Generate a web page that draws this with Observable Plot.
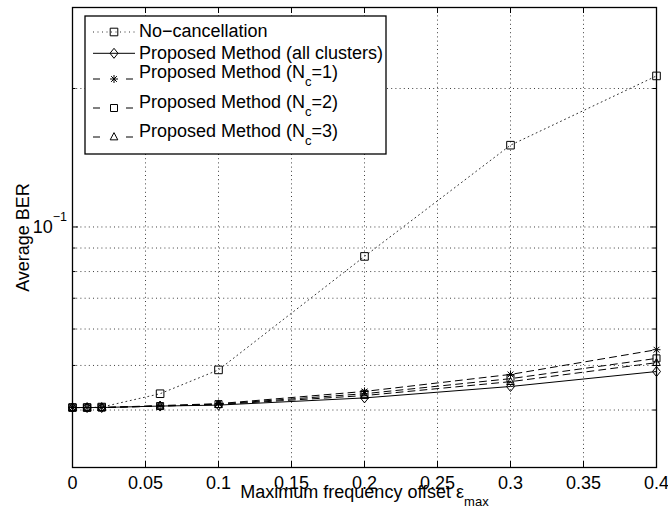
<!DOCTYPE html>
<html>
<head>
<meta charset="utf-8">
<script src="https://cdn.jsdelivr.net/npm/d3@7"></script>
<script src="https://cdn.jsdelivr.net/npm/@observablehq/plot@0.6"></script>
<style>
  html, body { margin: 0; padding: 0; background: #fff; }
</style>
</head>
<body>
<div id="chart"></div>
<script>
// ---- data ----
const offsets      = [0, 0.01, 0.02, 0.06, 0.1, 0.2, 0.3, 0.4];
const berNoCancel  = [0.0405, 0.0405, 0.0406, 0.0434, 0.0489, 0.0863, 0.1506, 0.213];
const berAll       = [0.0405, 0.0405, 0.0405, 0.0408, 0.0410, 0.0425, 0.0450, 0.0485];
const berNc1       = [0.0405, 0.0405, 0.0405, 0.0409, 0.0413, 0.0439, 0.0478, 0.0541];
const berNc2       = [0.0405, 0.0405, 0.0405, 0.0408, 0.0412, 0.0434, 0.0468, 0.0518];
const berNc3       = [0.0405, 0.0405, 0.0405, 0.0408, 0.0411, 0.0430, 0.0461, 0.0507];
const seriesNames  = ["No−cancellation", "Proposed Method (all clusters)",
                      "Proposed Method (N_c=1)", "Proposed Method (N_c=2)", "Proposed Method (N_c=3)"];
const xTicks       = [0, 0.05, 0.1, 0.15, 0.2, 0.25, 0.3, 0.35, 0.4];
const xTickLabels  = ["0", "0.05", "0.1", "0.15", "0.2", "0.25", "0.3", "0.35", "0.4"];
const yMajorTicks  = [0.1];
const yMinorTicks  = [0.04, 0.05, 0.06, 0.07, 0.08, 0.09, 0.2];
const yDomain      = [0.03, 0.3];
const xLabel       = "Maximum frequency offset ε";
const xLabelSub    = "max";
const yLabel       = "Average BER";

// ---- marker shapes (MATLAB-like, hollow) ----
const rad = size => Math.sqrt(size / Math.PI);
const symSquare = {draw(c, s) { const r = rad(s); c.moveTo(-r, -r); c.lineTo(r, -r); c.lineTo(r, r); c.lineTo(-r, r); c.closePath(); }};
const symDiamond = {draw(c, s) { const r = rad(s); c.moveTo(0, -1.25 * r); c.lineTo(r, 0); c.lineTo(0, 1.25 * r); c.lineTo(-r, 0); c.closePath(); }};
const symStar = {draw(c, s) { const r = rad(s), d = r * 0.72;
  c.moveTo(-r, 0); c.lineTo(r, 0); c.moveTo(0, -r); c.lineTo(0, r);
  c.moveTo(-d, -d); c.lineTo(d, d); c.moveTo(-d, d); c.lineTo(d, -d); }};
const symTriangle = {draw(c, s) { const r = rad(s); c.moveTo(0, -1.15 * r); c.lineTo(r, 0.75 * r); c.lineTo(-r, 0.75 * r); c.closePath(); }};

const series = [
  {name: seriesNames[0], values: berNoCancel, dash: "1,3.5", lw: 1, color: "#333", symbol: symSquare, r: 3.8},
  {name: seriesNames[1], values: berAll, dash: null, lw: 1, color: "#000", symbol: symDiamond, r: 4},
  {name: seriesNames[2], values: berNc1, dash: "7,5", lw: 1, color: "#000", symbol: symStar, r: 4},
  {name: seriesNames[3], values: berNc2, dash: "7,5", lw: 1, color: "#000", symbol: symSquare, r: 3.5},
  {name: seriesNames[4], values: berNc3, dash: "7,5", lw: 1, color: "#000", symbol: symTriangle, r: 3.8}
];

const rows = series.flatMap(s => offsets.map((x, i) => ({series: s.name, x, y: s.values[i]})));

const W = 668, H = 514;
const mL = 72, mR = 12, mT = 7, mB = 47;
const plotW = W - mL - mR, plotH = H - mT - mB;
const FONT = "'Liberation Sans', Arial, Helvetica, sans-serif";
const FS = 18;

const gridStyle = {stroke: "#000", strokeOpacity: 0.75, strokeWidth: 1, strokeDasharray: "1,3.2"};

const svg = Plot.plot({
  width: W, height: H,
  marginLeft: mL, marginRight: mR, marginTop: mT, marginBottom: mB,
  style: {fontFamily: FONT, fontSize: FS + "px", background: "white", color: "black", overflow: "visible"},
  x: {type: "linear", domain: [0, 0.4]},
  y: {type: "log", domain: yDomain},
  marks: [
    // grid
    Plot.ruleX(xTicks.filter(t => t > 0 && t < 0.4), {x: d => d, ...gridStyle}),
    Plot.ruleY([...yMinorTicks, ...yMajorTicks], {y: d => d, ...gridStyle}),
    // lines
    ...series.map(s => Plot.line(rows.filter(r => r.series === s.name), {
      x: "x", y: "y", stroke: s.color, strokeWidth: s.lw, strokeDasharray: s.dash
    })),
    // markers
    ...series.map(s => Plot.dot(rows.filter(r => r.series === s.name), {
      x: "x", y: "y", symbol: s.symbol, r: s.r, fill: "none", stroke: "#000", strokeWidth: 1
    })),
    // inward ticks (bottom, top, left, right)
    Plot.tickX(xTicks, {x: d => d, stroke: "#000", insetTop: plotH - 6}),
    Plot.tickX(xTicks, {x: d => d, stroke: "#000", insetBottom: plotH - 6}),
    Plot.tickY(yMajorTicks, {y: d => d, stroke: "#000", insetRight: plotW - 6}),
    Plot.tickY(yMajorTicks, {y: d => d, stroke: "#000", insetLeft: plotW - 6}),
    Plot.tickY(yMinorTicks, {y: d => d, stroke: "#000", insetRight: plotW - 3.5}),
    Plot.tickY(yMinorTicks, {y: d => d, stroke: "#000", insetLeft: plotW - 3.5}),
    // tick labels
    Plot.axisX({ticks: xTicks, tickFormat: d => xTickLabels[xTicks.indexOf(d)], tickSize: 0, tickPadding: 8.5, label: null}),
    Plot.axisY({ticks: yMajorTicks, tickFormat: () => "10", tickSize: 0, tickPadding: 5.5, label: null}),
    // axis labels
    Plot.text([xLabel], {text: d => d, frameAnchor: "bottom", dy: 30, textAnchor: "middle", fill: "#000"}),
    Plot.text([yLabel], {text: d => d, frameAnchor: "left", dx: -49, rotate: -90, textAnchor: "middle", fill: "#000"}),
    Plot.frame({stroke: "#000", strokeWidth: 1.3})
  ]
});

// superscript / subscript parts as real text
d3.select(svg).selectAll("text").each(function() {
  const t = d3.select(this);
  if (this.textContent === "10") {
    t.append("tspan").attr("dy", -12).attr("font-size", 12.5).text("−1");
  } else if (this.textContent === xLabel) {
    t.append("tspan").attr("dy", 8.5).attr("font-size", 13).text(xLabelSub);
  }
});

// legend (inside the axes, upper left)
const lg = d3.select(svg).append("g")
  .attr("font-family", FONT).attr("font-size", FS).attr("text-anchor", "start");
lg.append("rect").attr("x", 85).attr("y", 16).attr("width", 301).attr("height", 138)
  .attr("fill", "white").attr("stroke", "#000").attr("stroke-width", 1.3);
const legendLayout = [
  {lineY: 32, baseY: 37},
  {lineY: 53.3, baseY: 59},
  {lineY: 79, baseY: 78},
  {lineY: 108, baseY: 107.7},
  {lineY: 137, baseY: 136.7}
];
series.forEach((s, i) => {
  const L = legendLayout[i];
  lg.append("line").attr("x1", 93).attr("x2", 135).attr("y1", L.lineY).attr("y2", L.lineY)
    .attr("stroke", s.color).attr("stroke-width", s.lw)
    .attr("stroke-dasharray", s.dash ? (s.dash === "7,5" ? "7,26" : s.dash) : null);
  lg.append("path").attr("transform", `translate(114,${L.lineY})`)
    .attr("d", d3.symbol().type(s.symbol).size(Math.PI * s.r * s.r)())
    .attr("fill", "none").attr("stroke", "#000").attr("stroke-width", 1);
  const txt = lg.append("text").attr("x", 139).attr("y", L.baseY).attr("fill", "#000");
  const m = s.name.match(/^(.*)_(\w)(.*)$/);
  if (m) {
    txt.append("tspan").text(m[1]);
    txt.append("tspan").attr("dy", 8).attr("font-size", 13).text(m[2]);
    txt.append("tspan").attr("dy", -8).text(m[3]);
  } else {
    txt.text(s.name);
  }
});

document.getElementById("chart").appendChild(svg);
</script>
</body>
</html>
